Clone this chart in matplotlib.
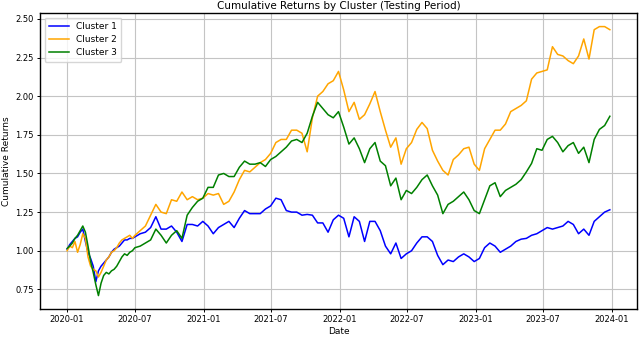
import matplotlib
matplotlib.use("Agg")
import matplotlib.pyplot as plt
import matplotlib.dates as mdates
import pandas as pd

# Dates: weekly through mid-2020, then every two weeks
dates_weekly = pd.date_range("2020-01-01", periods=27, freq="7D")
dates_biweekly = pd.date_range("2020-07-15", periods=91, freq="14D")
dates = dates_weekly.append(dates_biweekly)

cluster1 = [
    1.01, 1.04, 1.06, 1.08, 1.09, 1.12, 1.14, 1.06, 0.99, 0.95, 0.90, 0.80, 0.87, 0.90,
    0.92, 0.94, 0.96, 0.99, 1.01, 1.02, 1.03, 1.05, 1.07, 1.07, 1.08, 1.08, 1.09,
    1.11, 1.12, 1.15, 1.22, 1.14, 1.14, 1.16, 1.12, 1.06, 1.17,
    1.17, 1.16, 1.19, 1.16, 1.11, 1.15, 1.17, 1.19, 1.15, 1.21,
    1.26, 1.24, 1.24, 1.24, 1.27, 1.29, 1.34, 1.33, 1.26, 1.25,
    1.25, 1.23, 1.235, 1.23, 1.18, 1.18, 1.12, 1.20, 1.23, 1.21,
    1.09, 1.22, 1.19, 1.06, 1.19, 1.19, 1.13, 1.03, 0.98, 1.05,
    0.95, 0.98, 1.00, 1.05, 1.09, 1.09, 1.06, 0.97, 0.91, 0.94,
    0.93, 0.96, 0.98, 0.96, 0.93, 0.95, 1.02, 1.05, 1.03, 0.99,
    1.01, 1.03, 1.06, 1.075, 1.08, 1.10, 1.11, 1.13, 1.15, 1.14,
    1.15, 1.16, 1.19, 1.17, 1.11, 1.14, 1.10, 1.19, 1.22, 1.25, 1.265,
]

cluster2 = [
    1.00, 1.03, 1.02, 1.06, 0.99, 1.04, 1.11, 1.08, 0.96, 0.90, 0.88, 0.87, 0.83, 0.86,
    0.90, 0.94, 0.96, 0.99, 1.00, 1.02, 1.05, 1.07, 1.08, 1.09, 1.10, 1.08, 1.10,
    1.13, 1.16, 1.23, 1.30, 1.25, 1.24, 1.33, 1.32, 1.38, 1.33,
    1.35, 1.33, 1.34, 1.37, 1.36, 1.37, 1.30, 1.32, 1.38, 1.46,
    1.52, 1.51, 1.54, 1.57, 1.59, 1.63, 1.70, 1.72, 1.72, 1.78,
    1.78, 1.76, 1.64, 1.86, 2.00, 2.03, 2.08, 2.10, 2.16, 2.04,
    1.90, 1.96, 1.85, 1.88, 1.95, 2.03, 1.90, 1.78, 1.67, 1.73,
    1.56, 1.66, 1.70, 1.785, 1.83, 1.79, 1.65, 1.58, 1.52, 1.49,
    1.59, 1.62, 1.66, 1.67, 1.56, 1.52, 1.66, 1.72, 1.78, 1.78,
    1.82, 1.90, 1.92, 1.94, 1.97, 2.11, 2.15, 2.16, 2.17, 2.32,
    2.27, 2.26, 2.23, 2.21, 2.26, 2.37, 2.24, 2.43, 2.45, 2.45, 2.43,
]

cluster3 = [
    1.015, 1.03, 1.05, 1.08, 1.10, 1.13, 1.16, 1.12, 1.03, 0.93, 0.86, 0.78, 0.71, 0.79,
    0.84, 0.86, 0.85, 0.87, 0.88, 0.90, 0.93, 0.96, 0.98, 0.97, 0.99, 1.00, 1.02,
    1.03, 1.05, 1.07, 1.14, 1.10, 1.05, 1.10, 1.13, 1.08, 1.23,
    1.28, 1.32, 1.34, 1.41, 1.41, 1.49, 1.50, 1.48, 1.48, 1.54,
    1.58, 1.56, 1.56, 1.57, 1.545, 1.59, 1.61, 1.64, 1.67, 1.71,
    1.72, 1.70, 1.76, 1.87, 1.96, 1.92, 1.88, 1.86, 1.90, 1.80,
    1.69, 1.73, 1.66, 1.57, 1.66, 1.70, 1.58, 1.55, 1.42, 1.47,
    1.33, 1.39, 1.37, 1.41, 1.46, 1.49, 1.42, 1.36, 1.24, 1.30,
    1.32, 1.35, 1.38, 1.33, 1.26, 1.24, 1.33, 1.42, 1.44, 1.35,
    1.39, 1.41, 1.43, 1.46, 1.51, 1.565, 1.66, 1.65, 1.72, 1.74,
    1.70, 1.64, 1.68, 1.70, 1.63, 1.67, 1.57, 1.72, 1.785, 1.81, 1.87,
]

labels = ["Cluster 1", "Cluster 2", "Cluster 3"]
colors = ["blue", "orange", "green"]
yticks = [0.75, 1.00, 1.25, 1.50, 1.75, 2.00, 2.25, 2.50]

fig = plt.figure(figsize=(6.4, 3.37), dpi=100)
ax = fig.add_axes([0.0625, 0.083, 0.9328, 0.878])

for series, lab, col in zip([cluster1, cluster2, cluster3], labels, colors):
    ax.plot(dates, series, color=col, lw=1.1, label=lab)

ax.set_title("Cumulative Returns by Cluster (Testing Period)", fontsize=7.5, pad=3)
ax.set_xlabel("Date", fontsize=6.5, labelpad=2)
ax.set_ylabel("Cumulative Returns", fontsize=6.5, labelpad=3)

ax.xaxis.set_major_locator(mdates.MonthLocator(bymonth=[1, 7]))
ax.xaxis.set_major_formatter(mdates.DateFormatter("%Y-%m"))
ax.set_yticks(yticks)
ax.yaxis.set_major_formatter(matplotlib.ticker.FormatStrFormatter("%.2f"))
ax.tick_params(labelsize=6, length=2.5, pad=2, width=0.7)

ax.grid(True, color="#c4c4c4", lw=0.8)
for s in ax.spines.values():
    s.set_linewidth(1.0)

ax.legend(loc="upper left", fontsize=6.5, framealpha=0.8, borderpad=0.5,
          labelspacing=0.45, handlelength=2.2)

fig.savefig("out.png", dpi=100)
